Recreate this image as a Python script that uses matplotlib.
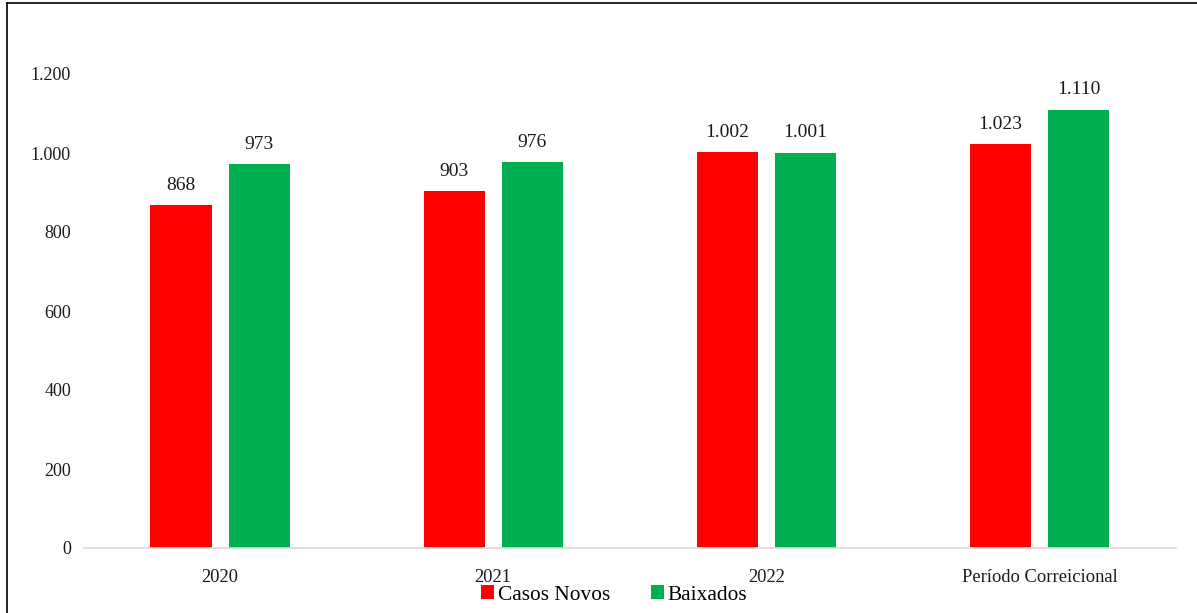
import matplotlib
matplotlib.use("Agg")
import matplotlib.pyplot as plt
from matplotlib.lines import Line2D
import numpy as np

categories = ["2020", "2021", "2022", "Período Correicional"]
casos_novos = [868, 903, 1002, 1023]
baixados = [973, 976, 1001, 1110]
series_names = ["Casos Novos", "Baixados"]
colors = ["#FF0000", "#00B050"]

def fmt(v):
    return f"{int(v):,}".replace(",", ".")

plt.rcParams['font.family'] = ['Liberation Serif', 'DejaVu Serif']

W, H = 1197, 613
fig = plt.figure(figsize=(W/100, H/100), dpi=100)
ax = fig.add_axes([83.5/W, 1-548/H, (1176-83.5)/W, (548-34.5)/H])

x = np.arange(len(categories))
bw = 61/272.5
off = (61+17)/2/272.5
b1 = ax.bar(x - off, casos_novos, bw, color=colors[0], label=series_names[0])
b2 = ax.bar(x + off, baixados, bw, color=colors[1], label=series_names[1])

for bars, vals in ((b1, casos_novos), (b2, baixados)):
    for r, v in zip(bars, vals):
        ax.annotate(fmt(v), (r.get_x()+r.get_width()/2, v), xytext=(0, 8),
                    textcoords="offset points", ha="center", va="bottom",
                    fontsize=14, color="#1a1a1a")

ax.set_xlim(-0.5, len(categories)-0.5)
ax.set_ylim(0, 1300)
yt = list(range(0, 1201, 200))
ax.set_yticks(yt)
ax.set_yticklabels([fmt(v) for v in yt], fontsize=13, color="#1a1a1a")
ax.set_xticks(x)
ax.set_xticklabels(categories, fontsize=13.3, color="#1a1a1a")
ax.tick_params(axis='both', length=0)
ax.tick_params(axis='y', pad=9)
ax.tick_params(axis='x', pad=15)
for s in ("top", "right", "left"):
    ax.spines[s].set_visible(False)
ax.spines["bottom"].set_color("#D9D9D9")
ax.spines["bottom"].set_linewidth(1.2)

leg = fig.legend(handles=[b1, b2], labels=series_names, loc="center",
                 bbox_to_anchor=(614/W, 1-595/H), ncol=2, frameon=False,
                 fontsize=15.4, handlelength=0.62, handleheight=0.62,
                 handletextpad=0.18, columnspacing=1.9)

# figure border (left and top visible)
fig.add_artist(Line2D([7/W, 7/W], [0, 1-3/H], color="black", lw=1.2, transform=fig.transFigure))
fig.add_artist(Line2D([7/W, 1], [1-3/H, 1-3/H], color="black", lw=1.2, transform=fig.transFigure))

fig.savefig("out.png", dpi=100)
